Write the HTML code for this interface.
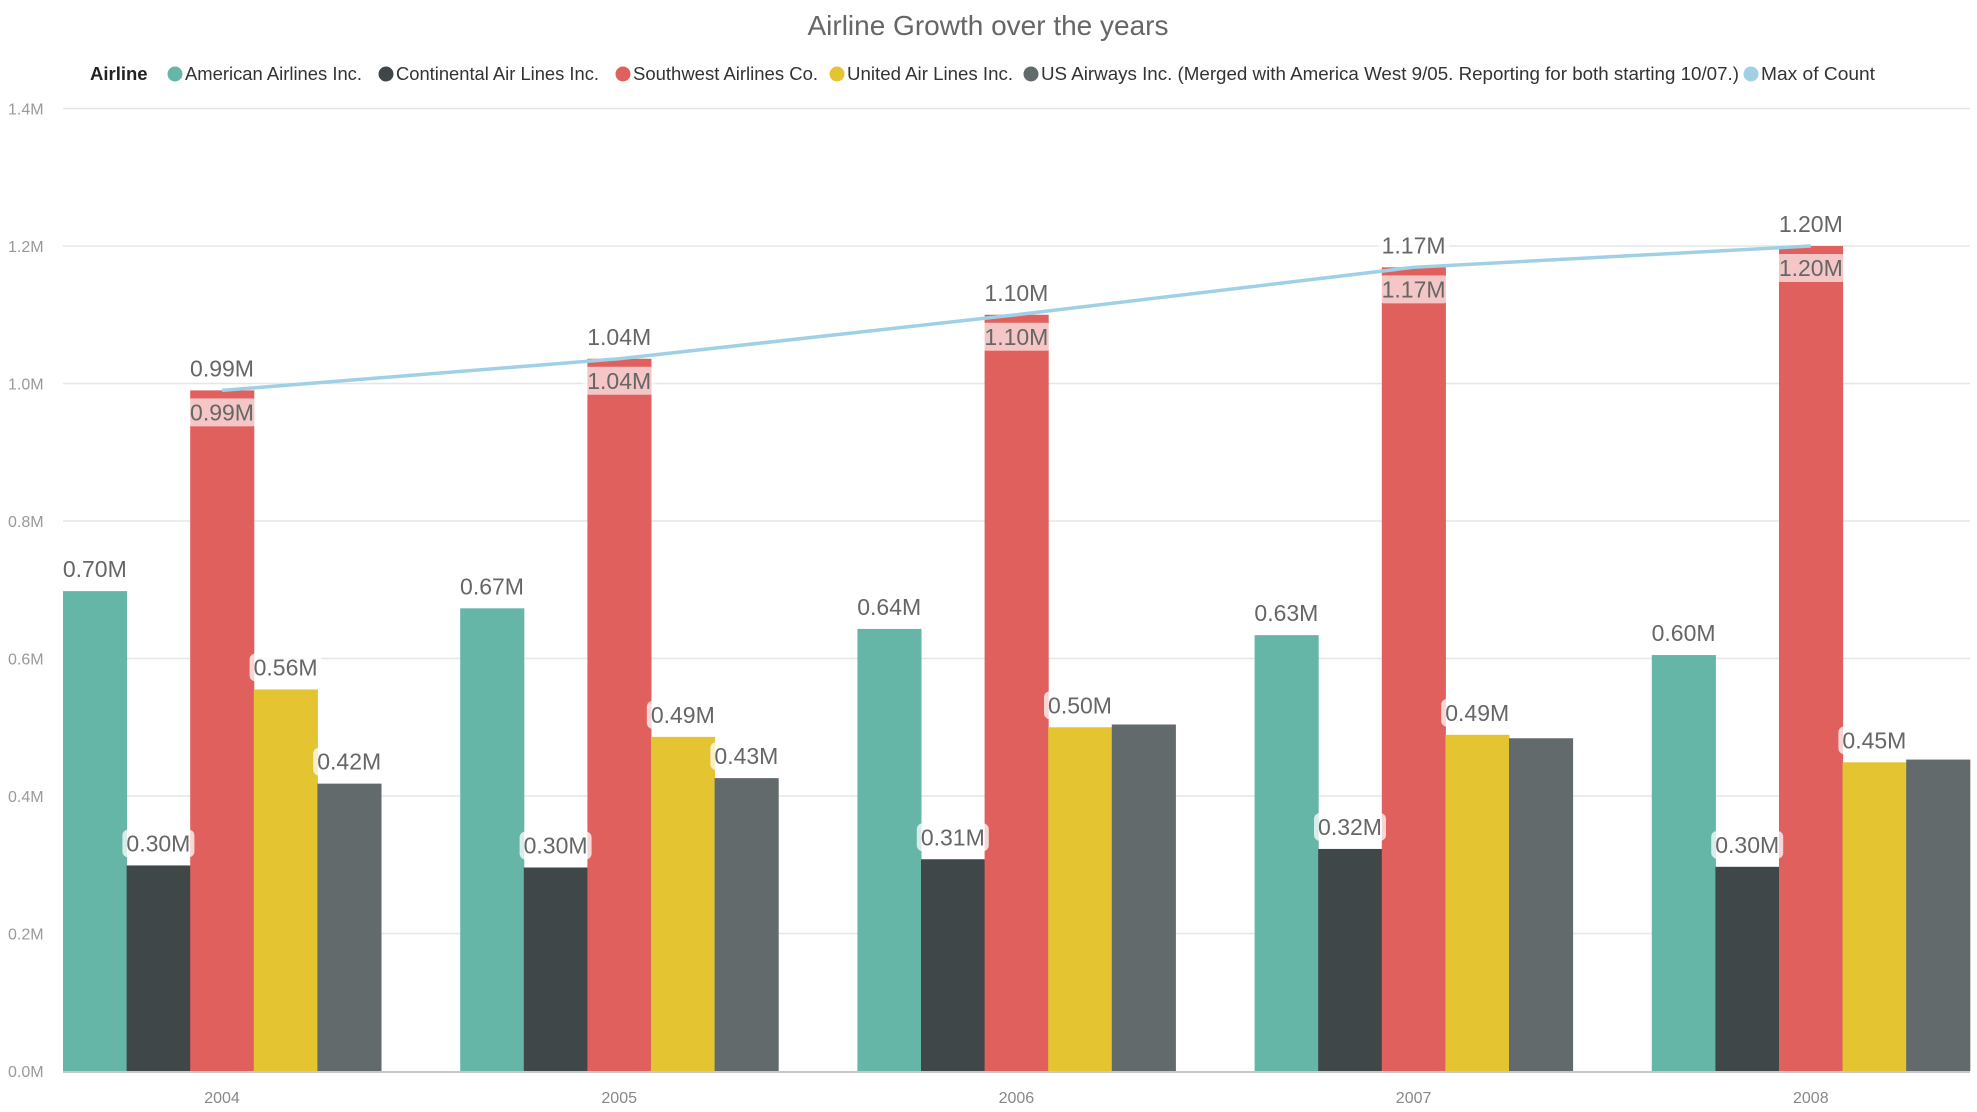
<!DOCTYPE html>
<html><head><meta charset="utf-8"><style>
html,body{margin:0;padding:0;background:#fff;width:1977px;height:1112px;overflow:hidden}
svg{display:block;font-family:"Liberation Sans",Arial,sans-serif}
</style></head><body>
<svg id="chart" width="1977" height="1112">
<text x="988" y="35" text-anchor="middle" font-size="28" fill="#666">Airline Growth over the years</text>
<g id="legend"></g>
<g id="grid"></g>
<g id="bars"></g>
<g id="line"></g>
<g id="labels"></g>
<g id="xaxis"></g>
</svg>
<script>
const years = ["2004","2005","2006","2007","2008"];
const seriesNames = ["American Airlines Inc.","Continental Air Lines Inc.","Southwest Airlines Co.","United Air Lines Inc.","US Airways Inc. (Merged with America West 9/05. Reporting for both starting 10/07.)"];
const american = [0.698,0.673,0.643,0.634,0.605];
const continental = [0.299,0.296,0.308,0.323,0.297];
const southwest = [0.99,1.036,1.10,1.169,1.20];
const united = [0.555,0.486,0.50,0.489,0.449];
const usairways = [0.418,0.426,0.504,0.484,0.453];
const maxCount = [0.99,1.036,1.10,1.169,1.20];
const yTicks = [0,0.2,0.4,0.6,0.8,1.0,1.2,1.4];
const showLabel = [[1,1,1,1,1],[1,1,1,1,1],[1,1,1,1,1],[1,1,1,1,1],[1,1,0,0,0]];

const colors = ["#66b6a8","#3f4749","#df605d","#e4c431","#636a6c"];
const lineColor = "#9fd0e6";
const NS="http://www.w3.org/2000/svg";
function el(tag,attrs,parent){const e=document.createElementNS(NS,tag);for(const k in attrs)e.setAttribute(k,attrs[k]);parent.appendChild(e);return e;}
const y = v => 1071 - v*687.5;
const cx = i => 222 + 397.2*i;
const barW = 63.6;
const barX = (i,s) => cx(i) - 2.5*barW + s*barW;
const fmt = v => v.toFixed(2)+"M";

// legend
const lg=document.getElementById('legend');
let t=el('text',{x:90,y:80,'font-size':18.5,'font-weight':'bold',fill:'#222'},lg);t.textContent="Airline";


const legX=[175,386,623,837,1031,1751];
const legW=[177,203,185,166,698,114];
const legNames=seriesNames.concat(["Max of Count"]);
const legCols=colors.concat([lineColor]);
legNames.forEach((n,k)=>{
  const g=el('g',{},lg);
  
  
  el('circle',{cx:legX[k],cy:74,r:7.5,fill:legCols[k]},g);
  const tx=el('text',{x:legX[k]+10,y:80,'font-size':18.5,fill:'#333',textLength:legW[k],lengthAdjust:'spacingAndGlyphs'},g);tx.textContent=n;
});

// grid
const gr=document.getElementById('grid');
yTicks.forEach(v=>{
  if(v>0){const l=el('line',{x1:63,x2:1970,y1:y(v),y2:y(v),stroke:'#e6e6e6','stroke-width':1.5},gr);
  
  }
  const tx=el('text',{x:8,y:y(v)+6,'font-size':16,fill:'#999'},gr);tx.textContent=v.toFixed(1)+"M";
  
  
});

// bars
const series=[american,continental,southwest,united,usairways];
const bg=document.getElementById('bars');
const lb=document.getElementById('labels');
function label(xc,yc,txt,bgFill){
  const g=el('g',{},lb);
  
  
  el('rect',{x:xc-36,y:yc-14,width:72,height:28,rx:6,fill:bgFill},g);
  const tx=el('text',{x:xc,y:yc+8,'text-anchor':'middle','font-size':23,fill:'#666'},g);tx.textContent=txt;
}
series.forEach((arr,s)=>{
  arr.forEach((v,i)=>{
    const r=el('rect',{x:barX(i,s),y:y(v),width:barW+0.5,height:y(0)-y(v),fill:colors[s]},bg);
    
    
  });
});
series.forEach((arr,s)=>{
  arr.forEach((v,i)=>{
    if(!showLabel[s][i])return;
    label(barX(i,s)+barW/2,y(v)-22,fmt(v),'rgba(255,255,255,0.75)');
    if(s===2) label(barX(i,s)+barW/2,y(v)+22,fmt(v),'rgba(255,255,255,0.65)');
  });
});

// line
const ln=document.getElementById('line');
const pts=maxCount.map((v,i)=>(barX(i,2)+barW/2)+","+y(v)).join(" ");
const pl=el('polyline',{points:pts,fill:'none',stroke:lineColor,'stroke-width':3.5},ln);



// x axis
const xa=document.getElementById('xaxis');
const ax=el('line',{x1:63,x2:1970,y1:1072,y2:1072,stroke:'#c8c8c8','stroke-width':2},xa);


years.forEach((yr,i)=>{
  const tx=el('text',{x:cx(i),y:1103,'text-anchor':'middle','font-size':16,fill:'#888'},xa);tx.textContent=yr;
  
  
});
</script>
</body></html>
